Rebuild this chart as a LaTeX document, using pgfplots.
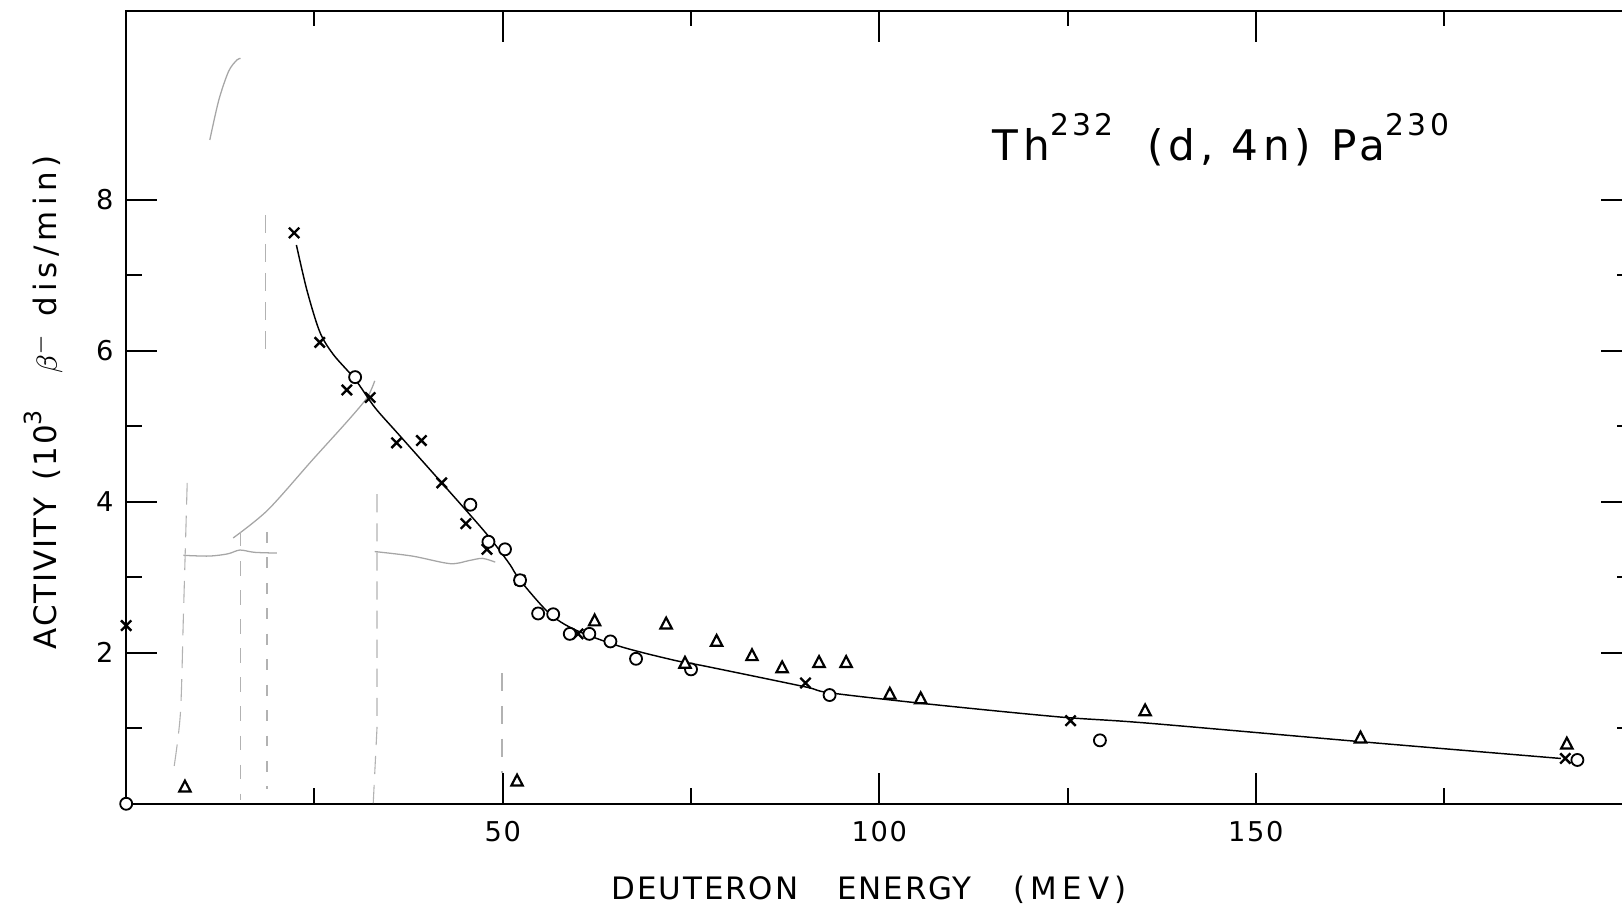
\documentclass[border=0pt]{standalone}
\usepackage{fontspec}
\setmainfont{DejaVu Sans}
\newfontfamily\lettering[LetterSpace=6]{DejaVu Sans}
\newfontfamily\titlefont[LetterSpace=11]{DejaVu Sans}
\usepackage{pgfplots}
\pgfplotsset{compat=1.18}

\begin{document}
\begin{tikzpicture}
\useasboundingbox (0,0) rectangle (15.68cm,8.79cm);
\begin{axis}[
  at={(1.22cm,1.02cm)}, anchor=south west,
  x=0.0728cm, y=0.73cm,
  xmin=0, xmax=200, ymin=0, ymax=10.5,
  axis line style={line width=0.55pt},
  tick align=inside,
  xtick={50,100,150}, minor xtick={25,75,125,175},
  ytick={2,4,6,8}, minor ytick={1,3,5,7},
  major tick length=0.3cm, minor tick length=0.15cm,
  every tick/.style={black, line width=0.55pt},
  tick label style={font=\lettering\fontsize{7.5}{9}\selectfont},
  xticklabel style={yshift=-0.04cm},
  /pgf/number format/assume math mode=true,
  clip=false,
]

% faint traces on the sheet
\addplot[gray!70, line width=0.35pt, smooth] coordinates {
  (14.2,3.52) (18.8,3.89) (24.7,4.55) (29.5,5.08) (32.0,5.38) (33.0,5.60)};
\addplot[gray!70, line width=0.35pt, smooth] coordinates {
  (7.6,3.29) (11.0,3.28) (13.5,3.31) (15.1,3.36) (17.0,3.33) (20.0,3.32)};
\addplot[gray!70, line width=0.35pt, smooth] coordinates {
  (33.0,3.34) (38.0,3.28) (43.0,3.18) (45.5,3.22) (47.3,3.25) (49.0,3.20)};
\addplot[gray!70, line width=0.35pt, smooth] coordinates {
  (11.1,8.79) (12.3,9.32) (13.6,9.70) (14.7,9.85) (15.2,9.87)};
\addplot[gray!60, line width=0.3pt, dash pattern=on 6pt off 3pt, smooth] coordinates {
  (8.1,4.25) (7.6,2.5) (7.2,1.2) (6.3,0.45)};
\addplot[gray!60, line width=0.3pt, dash pattern=on 4pt off 4pt] coordinates {
  (15.2,3.6) (15.2,0.05)};
\addplot[gray!60, line width=0.3pt, dash pattern=on 5pt off 3pt] coordinates {
  (18.5,7.8) (18.5,6.0)};
\addplot[gray!60, line width=0.3pt, dash pattern=on 3pt off 4pt] coordinates {
  (18.7,3.6) (18.7,0.2)};
\addplot[gray!60, line width=0.3pt, dash pattern=on 5pt off 3pt] coordinates {
  (33.3,4.1) (33.3,1.0) (32.8,0.0)};
\addplot[gray!60, line width=0.3pt, dash pattern=on 5pt off 4pt] coordinates {
  (49.9,1.73) (49.9,0.41)};

% excitation function
\addplot[black, line width=0.4pt, smooth, tension=0.5] coordinates {
  (22.6,7.40) (24.0,6.80) (25.7,6.25) (27.5,5.95) (30.4,5.62) (33.0,5.25)
  (36.1,4.90) (41.9,4.25) (47.8,3.58) (50.8,3.19) (52.3,2.96) (56.2,2.52)
  (59.7,2.30) (65.7,2.08) (72.8,1.90) (77.0,1.82) (90.1,1.55) (93.4,1.47)
  (106.6,1.32) (123.9,1.15) (135.4,1.07) (164.2,0.82) (190.5,0.60)};

% crosses
\addplot[only marks, mark=x, mark size=2.0pt, mark options={line width=0.65pt, black}] coordinates {
  (0,2.36) (22.3,7.56) (25.7,6.11) (29.3,5.48) (32.4,5.38) (35.9,4.78)
  (39.2,4.81) (41.9,4.25) (45.1,3.71) (47.9,3.37) (52.3,2.96) (60.0,2.25)
  (90.2,1.60) (125.4,1.10) (191.1,0.60)};

% circles
\addplot[only marks, mark=*, mark size=1.65pt, mark options={line width=0.5pt, draw=black, fill=white}] coordinates {
  (0,0) (30.4,5.65) (45.7,3.96) (48.1,3.47) (50.3,3.37) (52.3,2.96)
  (54.7,2.52) (56.7,2.51) (58.9,2.25) (61.5,2.25) (64.3,2.15) (67.7,1.92)
  (75.0,1.78) (93.4,1.44) (129.3,0.84) (192.7,0.58)};

% triangles
\addplot[only marks, mark=triangle*, mark size=1.8pt, mark options={line width=0.6pt, draw=black, fill=white, yscale=1.1}] coordinates {
  (7.8,0.21) (51.9,0.29) (62.2,2.41) (71.7,2.37) (74.2,1.85) (78.4,2.14)
  (83.1,1.95) (87.1,1.79) (92.0,1.86) (95.6,1.86) (101.4,1.44) (105.5,1.38)
  (135.3,1.22) (163.9,0.86) (191.3,0.78)};

% reaction
\node[anchor=base west, inner sep=0, font=\titlefont\fontsize{11.6}{13}\selectfont]
  at (axis cs:115,8.52)
  {Th\raisebox{6.9pt}{\fontsize{8.2}{9}\selectfont 232}\hspace{0.33cm}(d, 4n)\hspace{0.2cm}Pa\raisebox{6.9pt}{\fontsize{8.2}{9}\selectfont 230}};

% axis titles
\node[anchor=base west, inner sep=0, font=\lettering\fontsize{8.5}{10}\selectfont]
  at (axis cs:64.4,-1.274)
  {DEUTERON\hspace{0.38cm}ENERGY\hspace{0.4cm}{\addfontfeature{LetterSpace=18}(MEV)}};
\node[anchor=base west, inner sep=0, rotate=90, font=\lettering\fontsize{8.5}{10}\selectfont]
  at (axis cs:-9.2,2.04)
  {ACTIVITY\hspace{0.17cm}(10\raisebox{4.2pt}{\fontsize{6.5}{7}\selectfont 3}\hspace{0.35cm}$\beta^{-}$\hspace{0.15cm}{\addfontfeature{LetterSpace=17}dis/min)}};
\end{axis}
\end{tikzpicture}
\end{document}
